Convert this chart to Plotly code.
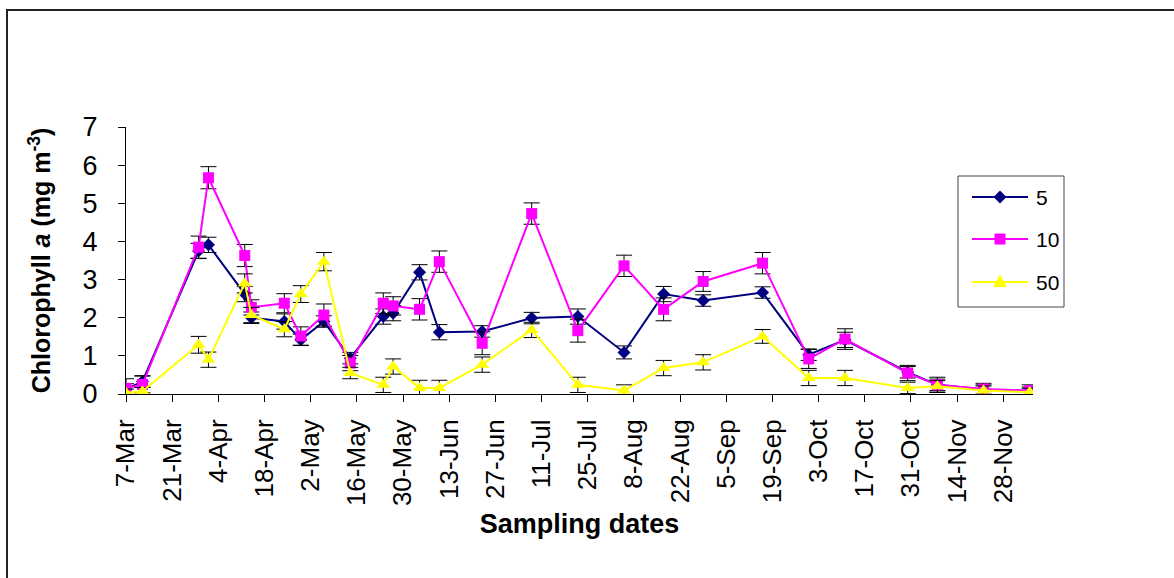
import plotly.graph_objects as go

# ---------------- DATA ----------------
dates = ["2005-03-07", "2005-03-12", "2005-03-29", "2005-04-01", "2005-04-12", "2005-04-14",
         "2005-04-24", "2005-04-29", "2005-05-06", "2005-05-14", "2005-05-24", "2005-05-27",
         "2005-06-04", "2005-06-10", "2005-06-23", "2005-07-08", "2005-07-22", "2005-08-05",
         "2005-08-17", "2005-08-29", "2005-09-16", "2005-09-30", "2005-10-11", "2005-10-30",
         "2005-11-08", "2005-11-22", "2005-12-06"]

chl_5 = [0.12, 0.33, 3.75, 3.91, 2.62, 2.00, 1.90, 1.42, 1.90, 0.94, 2.03, 2.12, 3.19, 1.62,
         1.64, 1.99, 2.03, 1.09, 2.62, 2.45, 2.66, 1.03, 1.42, 0.57, 0.24, 0.12, 0.06]
err_5 = [0.15, 0.15, 0.20, 0.20, 0.20, 0.15, 0.20, 0.15, 0.15, 0.15, 0.20, 0.20, 0.20, 0.20,
         0.15, 0.15, 0.20, 0.17, 0.20, 0.15, 0.15, 0.15, 0.20, 0.15, 0.15, 0.12, 0.12]

chl_10 = [0.15, 0.25, 3.85, 5.67, 3.63, 2.27, 2.38, 1.52, 2.07, 0.81, 2.38, 2.31, 2.22, 3.47,
          1.33, 4.73, 1.66, 3.36, 2.22, 2.95, 3.43, 0.92, 1.44, 0.55, 0.24, 0.13, 0.09]
err_10 = [0.25, 0.22, 0.29, 0.29, 0.29, 0.20, 0.25, 0.24, 0.29, 0.20, 0.27, 0.24, 0.28, 0.28,
          0.30, 0.28, 0.30, 0.28, 0.30, 0.26, 0.28, 0.25, 0.27, 0.20, 0.20, 0.15, 0.15]

chl_50 = [0.03, 0.07, 1.29, 0.90, 2.90, 2.07, 1.70, 2.62, 3.47, 0.55, 0.24, 0.72, 0.16, 0.16,
          0.77, 1.68, 0.24, 0.09, 0.68, 0.83, 1.51, 0.42, 0.42, 0.16, 0.20, 0.09, 0.05]
err_50 = [0.10, 0.10, 0.22, 0.20, 0.25, 0.20, 0.20, 0.22, 0.24, 0.15, 0.20, 0.20, 0.20, 0.20,
          0.20, 0.20, 0.20, 0.15, 0.20, 0.20, 0.18, 0.20, 0.20, 0.15, 0.15, 0.12, 0.10]

series_names = ["5", "10", "50"]

tick_dates = ["2005-03-07", "2005-03-21", "2005-04-04", "2005-04-18", "2005-05-02", "2005-05-16",
              "2005-05-30", "2005-06-13", "2005-06-27", "2005-07-11", "2005-07-25", "2005-08-08",
              "2005-08-22", "2005-09-05", "2005-09-19", "2005-10-03", "2005-10-17", "2005-10-31",
              "2005-11-14", "2005-11-28"]
tick_labels = ["7-Mar", "21-Mar", "4-Apr", "18-Apr", "2-May", "16-May", "30-May", "13-Jun",
               "27-Jun", "11-Jul", "25-Jul", "8-Aug", "22-Aug", "5-Sep", "19-Sep", "3-Oct",
               "17-Oct", "31-Oct", "14-Nov", "28-Nov"]

# ---------------- FIGURE ----------------
W, H = 1174, 578
L, R, T, B = 126, 141, 127, 184
pw, ph = W - L - R, H - T - B


def px(x):
    return (x - L) / pw


def py(y):
    return (H - B - y) / ph


styles = [
    dict(color="#000080", symbol="diamond", size=10),
    dict(color="#FF00FF", symbol="square", size=11),
    dict(color="#FFFF00", symbol="triangle-up", size=12),
]
ys = [chl_5, chl_10, chl_50]
errs = [err_5, err_10, err_50]

fig = go.Figure()
for name, y, e, st in zip(series_names, ys, errs, styles):
    fig.add_trace(go.Scatter(
        x=dates, y=y, name=name, mode="lines+markers",
        line=dict(color=st["color"], width=2),
        marker=dict(color=st["color"], symbol=st["symbol"], size=st["size"],
                    line=dict(width=0)),
        error_y=dict(type="data", array=e, visible=True, color="black",
                     thickness=1, width=8),
    ))

font = "Arial, Liberation Sans, sans-serif"

# ---- custom legend (box, sample lines, sample markers, labels) ----
shapes = [dict(
    type="rect", xref="paper", yref="paper",
    x0=px(7), x1=px(W + 20), y0=py(H + 20), y1=py(10),
    line=dict(color="#222", width=2), fillcolor="rgba(0,0,0,0)", layer="below",
)]
shapes.append(dict(type="rect", xref="paper", yref="paper",
                   x0=px(958), x1=px(1064), y0=py(307), y1=py(176),
                   line=dict(color="#444", width=1), fillcolor="white"))
annotations = []
entry_y = [197, 239, 282]
lx0, lx1, mcx, tx = 972, 1028, 1000, 1034


def poly(points):
    return "M " + " L ".join(f"{px(a)},{py(b)}" for a, b in points) + " Z"


for name, st, ey in zip(series_names, styles, entry_y):
    shapes.append(dict(type="line", xref="paper", yref="paper",
                       x0=px(lx0), x1=px(lx1), y0=py(ey), y1=py(ey),
                       line=dict(color=st["color"], width=2)))
    if st["symbol"] == "diamond":
        pts = [(mcx, ey - 6.5), (mcx + 6.5, ey), (mcx, ey + 6.5), (mcx - 6.5, ey)]
    elif st["symbol"] == "square":
        pts = [(mcx - 5.5, ey - 5.5), (mcx + 5.5, ey - 5.5), (mcx + 5.5, ey + 5.5), (mcx - 5.5, ey + 5.5)]
    else:
        pts = [(mcx, ey - 7.5), (mcx + 7, ey + 5), (mcx - 7, ey + 5)]
    shapes.append(dict(type="path", xref="paper", yref="paper", path=poly(pts),
                       fillcolor=st["color"], line=dict(width=0)))
    annotations.append(dict(x=px(tx), y=py(ey), xref="paper", yref="paper",
                            text=name, showarrow=False, xanchor="left", yanchor="middle",
                            font=dict(size=21, family=font, color="black")))

fig.update_layout(
    width=W, height=H,
    margin=dict(l=L, r=R, t=T, b=B),
    paper_bgcolor="white", plot_bgcolor="white",
    font=dict(family=font, color="black"),
    showlegend=False,
    xaxis=dict(
        type="date", range=["2005-03-07", "2005-12-07"],
        tickvals=tick_dates, ticktext=tick_labels, tickangle=-90,
        tickfont=dict(size=26, family=font),
        ticks="outside", ticklen=7, tickcolor="black",
        showline=True, linecolor="black", linewidth=1,
        showgrid=False, zeroline=False, ticklabelstandoff=7,
        title=dict(text="<b>Sampling dates</b>", font=dict(size=27, family=font), standoff=8),
    ),
    yaxis=dict(
        range=[0, 7], tickvals=list(range(0, 8)),
        tickfont=dict(size=27, family=font),
        ticks="outside", ticklen=7, tickcolor="black",
        showline=True, linecolor="black", linewidth=1,
        showgrid=False, zeroline=False, ticklabelstandoff=15,
        title=dict(text="<b>Chlorophyll <i>a</i> (mg m<sup>-3</sup>)</b>",
                   font=dict(size=25, family=font), standoff=24),
    ),
    shapes=shapes,
    annotations=annotations,
)

fig.write_html("out.html")
